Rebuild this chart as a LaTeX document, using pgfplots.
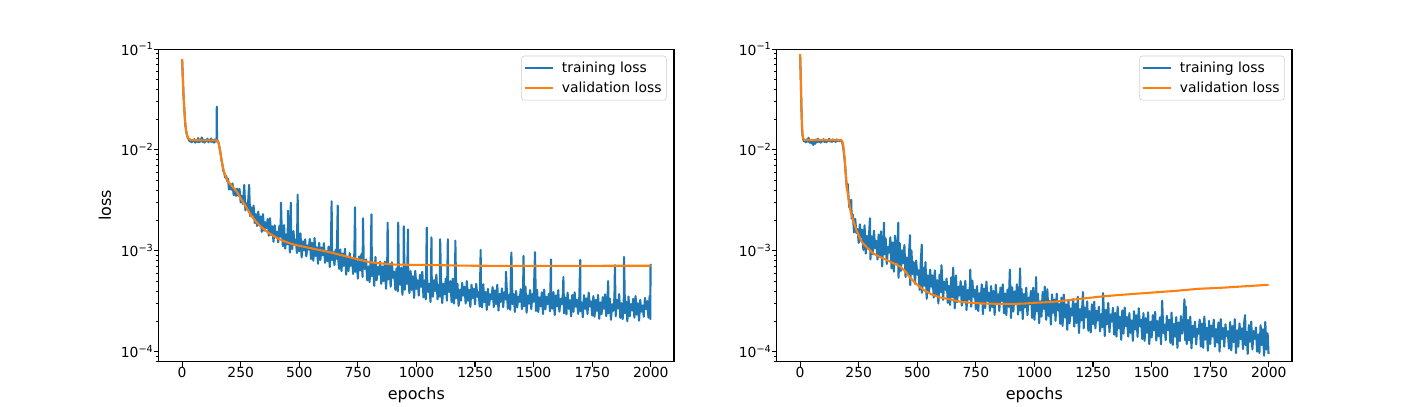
\documentclass[border=0pt]{standalone}
\usepackage{fontspec}
\setmainfont{DejaVu Sans}
\usepackage{pgfplots}
\pgfplotsset{compat=1.18}
\definecolor{tabblue}{HTML}{1F77B4}
\definecolor{taborange}{HTML}{FF7F0E}
\pgfplotsset{legend image code/.code={\draw[#1] (0pt,0pt) -- (20.6pt,0pt); \path (24pt,0pt);}}
\begin{document}
\begin{tikzpicture}
\path[use as bounding box] (0pt,0pt) rectangle (1017.36pt,292.32pt);
% ---------------- left panel ----------------
\begin{axis}[at={(114.26pt,31.9pt)}, anchor=south west,
    scale only axis, width=371pt, height=225.1pt,
    ymode=log, xmin=-99.95, xmax=2098.95, ymin=7.95e-5, ymax=0.1,
    xtick={0,250,500,750,1000,1250,1500,1750,2000},
    ytick={1e-4,1e-3,1e-2,1e-1},
    yticklabels={10\textsuperscript{−4},10\textsuperscript{−3},10\textsuperscript{−2},10\textsuperscript{−1}},
    minor ytick={8e-5,9e-5,2e-4,3e-4,4e-4,5e-4,6e-4,7e-4,8e-4,9e-4,2e-3,3e-3,4e-3,5e-3,6e-3,7e-3,8e-3,9e-3,2e-2,3e-2,4e-2,5e-2,6e-2,7e-2,8e-2,9e-2},
    tick align=outside, tick pos=left,
    major tick length=3.5pt, minor tick length=2pt,
    every major tick/.append style={line width=0.8pt,black},
    every minor tick/.append style={line width=0.6pt,black},
    axis line style={line width=0.8pt},
    xticklabel style={font=\fontsize{10}{12}\selectfont, anchor=north, inner sep=0pt, /pgf/number format/assume math mode=true, /pgf/number format/1000 sep={}},
    yticklabel style={font=\fontsize{10}{12}\selectfont, anchor=east, inner sep=0pt},
    xlabel={epochs},
    xlabel style={font=\fontsize{11.5}{13}\selectfont, at={(axis description cs:0.5,0)}, anchor=base, yshift=-27.1pt},
    ylabel={loss},
    ylabel style={font=\fontsize{11.5}{13}\selectfont, at={(axis description cs:-0.1043,0.5)}, anchor=center},
    legend cell align=left,
    legend style={at={(axis description cs:1,1)}, anchor=north east, xshift=-5.3pt, yshift=-4.8pt,
      draw=black!20, rounded corners=2pt, fill=white,
      font=\fontsize{10}{12}\selectfont,
      inner xsep=1.5pt, inner ysep=1.8pt, row sep=0pt,
      nodes={inner ysep=2.5pt}},
  ]
\addplot[tabblue, line width=1.5pt, line join=round, mark=none] coordinates {
(0,7.9e-2)(2,6.0e-2)(4,4.6e-2)(6,3.5e-2)(8,2.9e-2)(10,2.4e-2)(12,2.0e-2)(14,1.75e-2)(17,1.55e-2)(20,1.42e-2)(24,1.33e-2)(28,1.27e-2)
(32,1.22e-2)(36,1.26e-2)(40,1.19e-2)(44,1.25e-2)(48,1.21e-2)(52,1.28e-2)(56,1.18e-2)(60,1.24e-2)(64,1.20e-2)(68,1.31e-2)(72,1.19e-2)
(76,1.27e-2)(80,1.21e-2)(84,1.33e-2)(88,1.20e-2)(92,1.26e-2)(96,1.18e-2)(100,1.25e-2)(104,1.22e-2)(108,1.29e-2)(112,1.19e-2)(116,1.26e-2)
(120,1.21e-2)(124,1.30e-2)(128,1.20e-2)(132,1.25e-2)(136,1.18e-2)(140,1.27e-2)(144,1.21e-2)(147,1.24e-2)(148,2.68e-2)(149,1.25e-2)
(152,1.23e-2)(156,1.17e-2)(160,1.04e-2)(164,9.2e-3)(168,7.9e-3)(172,7.1e-3)(176,6.2e-3)(180,5.9e-3)(184,5.3e-3)(188,5.5e-3)(192,4.9e-3)
(196,5.2e-3)
(200,40.5e-4)(205,46e-4)(210,40.3e-4)(215,46.5e-4)(220,35.6e-4)(225,40.8e-4)(230,35e-4)(235,41.4e-4)(240,35e-4)(245,41e-4)(250,30.1e-4)
(255,35e-4)(260,29.1e-4)(265,45e-4)(270,25.2e-4)(275,29.5e-4)(280,25.9e-4)(286,45e-4)(290,22.1e-4)(295,26.9e-4)(300,22.6e-4)(305,28e-4)
(310,18.8e-4)(315,23.1e-4)(320,17.6e-4)(325,24.4e-4)(330,18.5e-4)(335,21.9e-4)(340,15.4e-4)(345,23.1e-4)(350,15.8e-4)(355,19.2e-4)
(360,16.8e-4)(365,20.6e-4)(370,14.1e-4)(375,21e-4)(380,14.3e-4)(385,17.5e-4)(390,12.3e-4)(395,17.9e-4)(400,13.8e-4)(405,15.4e-4)
(410,12.1e-4)(415,17.7e-4)(420,13.8e-4)(422,30e-4)(425,16.2e-4)(430,11.1e-4)(435,18e-4)(440,10.5e-4)(445,14.5e-4)(450,11.6e-4)(452,25e-4)
(455,16e-4)(460,9.6e-4)(464,30e-4)(465,14.3e-4)(470,10.4e-4)(475,15.7e-4)(480,11.4e-4)(485,12.9e-4)(490,9.5e-4)(493,36e-4)(495,14.2e-4)
(500,9.9e-4)(505,14.9e-4)(510,8.6e-4)(515,12.4e-4)(520,10.1e-4)(525,13e-4)(530,8.8e-4)(535,11.3e-4)(540,10.3e-4)(545,13.1e-4)(550,8.3e-4)
(555,12e-4)(560,7.96e-4)(565,13.4e-4)(570,8.9e-4)(575,10.8e-4)(580,7.44e-4)(585,12e-4)(590,8.1e-4)(595,10.8e-4)(600,9e-4)(605,11.9e-4)
(610,7.6e-4)(615,9.9e-4)(620,7.9e-4)(625,11e-4)(630,6.9e-4)(635,11.5e-4)(638,31e-4)(640,8.1e-4)(645,9.7e-4)(650,7.2e-4)(655,10.2e-4)
(660,8.3e-4)(664,28e-4)(665,8.9e-4)(670,6.6e-4)(675,10.3e-4)(680,6.3e-4)(685,9.4e-4)(690,7.1e-4)(695,10.5e-4)(700,5.8e-4)(705,8.5e-4)
(710,6.3e-4)(715,9.5e-4)(720,7.1e-4)(725,8.5e-4)(730,5.9e-4)(735,9.5e-4)(738,27e-4)(740,6.2e-4)(745,7.9e-4)(750,5.3e-4)(755,8.8e-4)
(760,6.4e-4)(765,9.3e-4)(770,5.5e-4)(772,21e-4)(775,7.7e-4)(780,6.6e-4)(785,8.2e-4)(790,5.1e-4)(795,7e-4)(800,4.9e-4)(805,8.3e-4)
(808,23e-4)(810,5.6e-4)(815,7.6e-4)(820,4.5e-4)(825,8.7e-4)(830,5.1e-4)(835,6.9e-4)(840,5.8e-4)(845,7.8e-4)(850,4.7e-4)(855,7e-4)
(860,5e-4)(865,7.8e-4)(870,4.2e-4)(875,6.4e-4)(877,19e-4)(880,5.2e-4)(885,7.2e-4)(890,4.4e-4)(895,7.7e-4)(900,5.4e-4)(905,6.2e-4)
(910,4.1e-4)(915,6.7e-4)(920,3.96e-4)(922,19e-4)(925,5.7e-4)(930,4.6e-4)(935,6.8e-4)(940,3.66e-4)(945,6.1e-4)(946,17.5e-4)(950,4.1e-4)
(955,7e-4)(960,4.7e-4)(964,16.3e-4)(965,5.5e-4)(970,3.8e-4)(975,6.3e-4)(980,4.1e-4)(985,5.6e-4)(990,3.4e-4)(995,6.3e-4)(1000,4.2e-4)
(1005,5.1e-4)(1010,3.6e-4)(1015,5.8e-4)(1020,4.4e-4)(1025,6.2e-4)(1030,3.45e-4)(1035,5.1e-4)(1040,3.3e-4)(1044,17e-4)(1045,5.5e-4)
(1050,3.9e-4)(1055,4.7e-4)(1060,3.1e-4)(1064,13.6e-4)(1065,5.6e-4)(1070,3.5e-4)(1075,5.1e-4)(1080,4e-4)(1085,5.8e-4)(1090,3.3e-4)
(1095,4.6e-4)(1100,3.5e-4)(1101,13e-4)(1105,5.3e-4)(1110,3.03e-4)(1115,4.7e-4)(1120,3.7e-4)(1125,5.3e-4)(1130,3.2e-4)(1134,13e-4)
(1135,4.4e-4)(1140,3.9e-4)(1145,5e-4)(1150,3.1e-4)(1155,5.3e-4)(1160,3e-4)(1165,4.4e-4)(1166,12.6e-4)(1170,3.4e-4)(1175,4.7e-4)
(1180,2.84e-4)(1185,4.1e-4)(1190,3.2e-4)(1195,4.8e-4)(1200,3.6e-4)(1205,4.4e-4)(1210,3e-4)(1215,5e-4)(1220,3.2e-4)(1225,4.1e-4)
(1230,2.78e-4)(1235,4.6e-4)(1240,3.4e-4)(1245,4.2e-4)(1250,2.95e-4)(1255,4.7e-4)(1260,3.5e-4)(1265,3.9e-4)(1270,2.8e-4)(1274,10.2e-4)
(1275,4.4e-4)(1280,2.74e-4)(1285,4.66e-4)(1290,3.1e-4)(1295,3.9e-4)(1300,2.6e-4)(1305,4.2e-4)(1310,2.9e-4)(1315,3.7e-4)(1320,3.3e-4)
(1325,4.37e-4)(1330,2.77e-4)(1335,4.04e-4)(1340,2.96e-4)(1345,4.6e-4)(1350,2.55e-4)(1355,3.75e-4)(1360,3.12e-4)(1365,4.24e-4)
(1370,2.76e-4)(1375,3.88e-4)(1380,3.29e-4)(1382,6.2e-4)(1385,4.34e-4)(1390,2.66e-4)(1395,3.66e-4)(1400,2.6e-4)(1405,9.6e-4)(1410,2.96e-4)
(1415,3.72e-4)(1420,2.48e-4)(1425,4e-4)(1430,2.75e-4)(1435,3.51e-4)(1440,3.12e-4)(1445,4.16e-4)(1450,2.64e-4)(1455,3.87e-4)(1457,8.9e-4)
(1460,2.82e-4)(1465,4.43e-4)(1470,2.43e-4)(1475,3.6e-4)(1480,2.99e-4)(1485,4.08e-4)(1490,2.64e-4)(1495,3.73e-4)(1500,3.12e-4)(1506,9.7e-4)
(1510,2.53e-4)(1515,4.09e-4)(1520,2.47e-4)(1525,3.45e-4)(1530,2.81e-4)(1535,3.88e-4)(1540,2.36e-4)(1545,4.13e-4)(1550,2.62e-4)(1555,3.5e-4)
(1560,2.96e-4)(1565,3.75e-4)(1570,2.51e-4)(1574,8.2e-4)(1575,3.3e-4)(1580,2.67e-4)(1585,3.9e-4)(1590,2.31e-4)(1595,3.62e-4)(1600,2.81e-4)
(1605,4.07e-4)(1610,2.49e-4)(1615,3.33e-4)(1620,2.95e-4)(1625,3.76e-4)(1627,5.5e-4)(1630,2.4e-4)(1635,3.44e-4)(1640,2.34e-4)(1645,3.85e-4)
(1650,2.66e-4)(1655,3.24e-4)(1660,2.24e-4)(1665,3.64e-4)(1670,2.48e-4)(1675,3.87e-4)(1680,2.79e-4)(1685,3.27e-4)(1690,2.37e-4)(1695,3.5e-4)
(1699,8.1e-4)(1700,2.52e-4)(1705,3.08e-4)(1710,2.19e-4)(1715,3.63e-4)(1720,2.66e-4)(1725,3.38e-4)(1730,2.36e-4)(1735,3.85e-4)(1740,2.8e-4)
(1745,3.15e-4)(1750,2.28e-4)(1755,3.56e-4)(1760,2.22e-4)(1765,3.26e-4)(1770,2.53e-4)(1775,3.65e-4)(1780,2.12e-4)(1785,3.08e-4)(1790,2.35e-4)
(1795,3.47e-4)(1800,2.66e-4)(1805,3.7e-4)(1810,2.25e-4)(1815,3.13e-4)(1818,5e-4)(1820,2.4e-4)(1825,3.36e-4)(1830,2.07e-4)(1835,2.95e-4)
(1840,2.54e-4)(1845,3.5e-4)(1847,7.2e-4)(1850,2.24e-4)(1855,3.25e-4)(1860,2.68e-4)(1865,3.72e-4)(1870,2.16e-4)(1875,3.02e-4)(1880,2.1e-4)
(1885,3.43e-4)(1886,8.7e-4)(1890,2.41e-4)(1895,3.13e-4)(1900,2e-4)(1905,3.52e-4)(1910,2.24e-4)(1915,2.96e-4)(1920,2.56e-4)(1925,3.34e-4)
(1930,2.17e-4)(1935,3.56e-4)(1940,2.33e-4)(1945,3.02e-4)(1950,2.03e-4)(1955,3.25e-4)(1960,2.49e-4)(1965,2.87e-4)(1970,2.22e-4)(1975,3.41e-4)
(1980,2.64e-4)(1985,3.17e-4)(1990,2.17e-4)(1995,3.57e-4)(1998,2.1e-4)(1999,7.4e-4)
};
\addlegendentry{training loss}
\addplot[taborange, line width=1.5pt, line join=round, mark=none] coordinates {
(0,7.96e-2)(2,6.0e-2)(4,4.6e-2)(6,3.5e-2)(9,2.6e-2)(13,1.9e-2)(17,1.55e-2)(22,1.37e-2)(30,1.28e-2)(40,1.25e-2)(80,1.245e-2)(120,1.245e-2)
(150,1.24e-2)(155,1.18e-2)(160,1.05e-2)(165,8.9e-3)(170,7.6e-3)(177,6.3e-3)(186,5.4e-3)(195,4.9e-3)(208,4.5e-3)(220,4.2e-3)(235,3.8e-3)
(250,3.3e-3)(270,2.8e-3)(293,2.26e-3)(315,1.95e-3)(336,1.73e-3)(370,1.5e-3)(407,1.33e-3)(440,1.23e-3)(478,1.15e-3)(550,1.06e-3)(620,9.8e-4)
(700,8.8e-4)(762,8.1e-4)(800,7.7e-4)(850,7.5e-4)(904,7.3e-4)(1000,7.25e-4)(1100,7.2e-4)(1200,7.12e-4)(1400,7.08e-4)(1600,7.08e-4)(1800,7.1e-4)(1999,7.1e-4)
};
\addlegendentry{validation loss}
\end{axis}
% ---------------- right panel ----------------
\begin{axis}[at={(559.22pt,31.9pt)}, anchor=south west,
    scale only axis, width=371pt, height=225.1pt,
    ymode=log, xmin=-99.95, xmax=2098.95, ymin=7.95e-5, ymax=0.1,
    xtick={0,250,500,750,1000,1250,1500,1750,2000},
    ytick={1e-4,1e-3,1e-2,1e-1},
    yticklabels={10\textsuperscript{−4},10\textsuperscript{−3},10\textsuperscript{−2},10\textsuperscript{−1}},
    minor ytick={8e-5,9e-5,2e-4,3e-4,4e-4,5e-4,6e-4,7e-4,8e-4,9e-4,2e-3,3e-3,4e-3,5e-3,6e-3,7e-3,8e-3,9e-3,2e-2,3e-2,4e-2,5e-2,6e-2,7e-2,8e-2,9e-2},
    tick align=outside, tick pos=left,
    major tick length=3.5pt, minor tick length=2pt,
    every major tick/.append style={line width=0.8pt,black},
    every minor tick/.append style={line width=0.6pt,black},
    axis line style={line width=0.8pt},
    xticklabel style={font=\fontsize{10}{12}\selectfont, anchor=north, inner sep=0pt, /pgf/number format/assume math mode=true, /pgf/number format/1000 sep={}},
    yticklabel style={font=\fontsize{10}{12}\selectfont, anchor=east, inner sep=0pt},
    xlabel={epochs},
    xlabel style={font=\fontsize{11.5}{13}\selectfont, at={(axis description cs:0.5,0)}, anchor=base, yshift=-27.1pt},
    legend cell align=left,
    legend style={at={(axis description cs:1,1)}, anchor=north east, xshift=-5.3pt, yshift=-4.8pt,
      draw=black!20, rounded corners=2pt, fill=white,
      font=\fontsize{10}{12}\selectfont,
      inner xsep=1.5pt, inner ysep=1.8pt, row sep=0pt,
      nodes={inner ysep=2.5pt}},
  ]
\addplot[tabblue, line width=1.5pt, line join=round, mark=none] coordinates {
(0,8.9e-2)(2,6.0e-2)(4,3.8e-2)(6,2.4e-2)(8,1.7e-2)(10,1.4e-2)(13,1.28e-2)(16,1.22e-2)(20,1.26e-2)(24,1.19e-2)(28,1.27e-2)(32,1.21e-2)
(36,1.32e-2)(40,1.18e-2)(44,1.25e-2)(48,1.16e-2)(52,1.24e-2)(56,1.12e-2)(60,1.23e-2)(64,1.15e-2)(68,1.27e-2)(72,1.19e-2)(76,1.29e-2)
(80,1.2e-2)(84,1.26e-2)(88,1.18e-2)(92,1.25e-2)(96,1.21e-2)(100,1.28e-2)(104,1.2e-2)(108,1.26e-2)(112,1.19e-2)(116,1.25e-2)(120,1.22e-2)
(124,1.29e-2)(128,1.21e-2)(132,1.26e-2)(136,1.2e-2)(140,1.27e-2)(144,1.22e-2)(148,1.25e-2)(152,1.2e-2)(156,1.27e-2)(160,1.23e-2)(164,1.26e-2)
(168,1.22e-2)(172,1.25e-2)(176,1.24e-2)(180,1.18e-2)(184,1.05e-2)(188,8.8e-3)(192,7.0e-3)(196,5.2e-3)(200,4.0e-3)(203,4.6e-3)
(205,39e-4)(210,26.8e-4)(215,31e-4)(218,32e-4)(220,20.8e-4)(225,22.9e-4)(230,15.2e-4)(235,20.75e-4)(240,15.05e-4)(245,16.4e-4)(250,12e-4)
(255,18.3e-4)(260,13.6e-4)(265,16.2e-4)(270,10.2e-4)(275,17.9e-4)(280,9.4e-4)(285,14e-4)(290,10.7e-4)(295,15.7e-4)(298,21e-4)(300,8.2e-4)
(305,13.9e-4)(310,9.2e-4)(315,15.8e-4)(320,10.6e-4)(325,12.6e-4)(330,8.2e-4)(335,14.5e-4)(340,8.8e-4)(345,15.6e-4)(350,7e-4)(355,12.3e-4)
(358,19e-4)(360,9.2e-4)(365,13.3e-4)(370,7.4e-4)(375,10.9e-4)(380,9.6e-4)(385,13.6e-4)(390,6.7e-4)(395,12.1e-4)(400,6.2e-4)(405,14.1e-4)
(410,7.6e-4)(415,10.3e-4)(419,19e-4)(420,5.4e-4)(425,11.9e-4)(430,6.3e-4)(435,10.1e-4)(440,7.5e-4)(445,11.4e-4)(450,5.5e-4)(455,8.6e-4)
(460,5.9e-4)(465,9.7e-4)(469,14.3e-4)(470,4.56e-4)(475,10.1e-4)(480,5.9e-4)(485,7.7e-4)(490,4.7e-4)(495,8e-4)(500,5.8e-4)(505,6.4e-4)
(510,4.1e-4)(515,7.7e-4)(519,11.5e-4)(520,3.84e-4)(525,6.8e-4)(530,4.5e-4)(535,7.7e-4)(540,3.34e-4)(545,5.7e-4)(550,3.8e-4)(555,6.5e-4)
(560,4.4e-4)(565,5.7e-4)(570,3.44e-4)(575,6.4e-4)(580,3.7e-4)(585,5.1e-4)(590,3e-4)(595,5.8e-4)(600,3.9e-4)(603,7.2e-4)(605,6.15e-4)
(610,3.26e-4)(615,4.93e-4)(620,4.1e-4)(625,5.3e-4)(630,3.05e-4)(635,4.5e-4)(640,2.91e-4)(645,5.45e-4)(650,3.47e-4)(653,6.8e-4)(655,4.9e-4)
(660,2.69e-4)(665,5.7e-4)(670,3.1e-4)(675,4.4e-4)(680,3.6e-4)(685,5e-4)(690,2.86e-4)(695,4.45e-4)(700,3.08e-4)(705,5.05e-4)(710,2.58e-4)
(715,4.09e-4)(720,3.29e-4)(725,4.7e-4)(726,6.5e-4)(730,2.79e-4)(735,5.06e-4)(740,3.49e-4)(745,4.12e-4)(750,2.63e-4)(755,4.47e-4)(760,2.53e-4)
(765,3.79e-4)(770,3.02e-4)(775,4.65e-4)(780,2.35e-4)(785,4.23e-4)(790,2.71e-4)(795,4.95e-4)(800,3.18e-4)(805,3.84e-4)(810,2.54e-4)(815,4.47e-4)
(820,2.77e-4)(825,4e-4)(830,2.31e-4)(835,4.61e-4)(840,2.98e-4)(845,3.71e-4)(850,2.53e-4)(855,4.32e-4)(860,3.19e-4)(865,4.65e-4)(870,2.4e-4)
(875,3.78e-4)(880,2.3e-4)(885,4.12e-4)(890,2.78e-4)(895,6.5e-4)(900,2.15e-4)(905,4.34e-4)(910,2.5e-4)(915,3.95e-4)(920,2.96e-4)(925,4.66e-4)
(930,2.33e-4)(935,3.59e-4)(939,6.7e-4)(940,2.56e-4)(945,4.19e-4)(950,2.1e-4)(955,3.73e-4)(960,2.75e-4)(965,4.31e-4)(970,2.3e-4)(975,3.44e-4)
(980,2.95e-4)(985,4.01e-4)(990,2.16e-4)(995,4.3e-4)(1000,2.07e-4)(1005,3.45e-4)(1007,5.5e-4)(1010,2.51e-4)(1015,3.76e-4)(1020,1.91e-4)
(1025,3.15e-4)(1030,2.23e-4)(1035,3.9e-4)(1040,2.65e-4)(1044,4.4e-4)(1045,3.53e-4)(1050,2.07e-4)(1055,4.16e-4)(1060,2.27e-4)(1065,3.17e-4)
(1070,1.85e-4)(1075,3.7e-4)(1080,2.43e-4)(1085,3.28e-4)(1090,2.02e-4)(1095,3.76e-4)(1100,2.57e-4)(1105,2.96e-4)(1110,1.89e-4)(1115,3.43e-4)
(1120,1.8e-4)(1125,3.68e-4)(1130,2.18e-4)(1135,2.95e-4)(1140,1.65e-4)(1145,3.21e-4)(1150,1.92e-4)(1155,2.68e-4)(1160,2.28e-4)(1165,3.32e-4)
(1170,1.77e-4)(1175,2.99e-4)(1180,1.93e-4)(1185,3.51e-4)(1190,1.53e-4)(1195,2.64e-4)(1200,2.04e-4)(1205,3.07e-4)(1207,3.9e-4)(1210,1.7e-4)
(1215,2.73e-4)(1220,2.19e-4)(1225,3.15e-4)(1230,1.61e-4)(1235,2.52e-4)(1240,1.55e-4)(1245,2.94e-4)(1250,1.88e-4)(1255,3.13e-4)(1260,1.7e-4)
(1265,2.55e-4)(1270,2.03e-4)(1275,2.79e-4)(1280,1.59e-4)(1285,2.35e-4)(1290,1.75e-4)(1293,3.8e-4)(1295,2.85e-4)(1300,1.43e-4)(1305,2.59e-4)
(1310,1.87e-4)(1315,3.04e-4)(1320,1.56e-4)(1325,2.34e-4)(1330,1.98e-4)(1335,2.72e-4)(1340,1.47e-4)(1345,2.42e-4)(1350,1.41e-4)(1355,2.78e-4)
(1360,1.7e-4)(1365,2.22e-4)(1370,1.31e-4)(1375,2.57e-4)(1380,1.51e-4)(1385,2.74e-4)(1390,1.79e-4)(1395,2.2e-4)(1400,1.41e-4)(1405,2.41e-4)
(1410,1.54e-4)(1415,2.04e-4)(1420,1.28e-4)(1425,2.52e-4)(1430,1.66e-4)(1435,2.29e-4)(1440,1.4e-4)(1445,2.69e-4)(1450,1.78e-4)(1455,2.08e-4)
(1460,1.33e-4)(1465,2.41e-4)(1470,1.28e-4)(1475,2.15e-4)(1480,1.54e-4)(1485,2.46e-4)(1490,1.19e-4)(1495,1.98e-4)(1500,1.38e-4)(1505,2.3e-4)
(1510,1.63e-4)(1515,2.48e-4)(1520,1.29e-4)(1525,2.01e-4)(1530,1.42e-4)(1535,2.19e-4)(1540,1.18e-4)(1545,3.2e-4)(1550,1.53e-4)(1555,1.85e-4)
(1560,1.3e-4)(1565,2.27e-4)(1570,1.64e-4)(1575,2.07e-4)(1580,1.22e-4)(1585,2.44e-4)(1590,1.17e-4)(1595,1.89e-4)(1600,1.41e-4)(1605,2.2e-4)
(1610,1.09e-4)(1615,1.95e-4)(1620,1.27e-4)(1625,2.25e-4)(1630,1.51e-4)(1635,1.82e-4)(1640,3.3e-4)(1643,1.3e-4)(1646,2.8e-4)(1650,1.19e-4)
(1655,2.06e-4)(1660,1.29e-4)(1665,2.22e-4)(1670,1.08e-4)(1675,1.8e-4)(1680,1.4e-4)(1685,1.98e-4)(1690,1.18e-4)(1695,1.68e-4)(1700,1.5e-4)
(1705,2.08e-4)(1710,1.12e-4)(1715,1.9e-4)(1720,1.09e-4)(1725,2.23e-4)(1730,1.32e-4)(1735,1.73e-4)(1740,1.02e-4)(1745,2.02e-4)(1750,1.19e-4)
(1755,1.81e-4)(1760,1.41e-4)(1765,2.07e-4)(1770,1.12e-4)(1775,1.68e-4)(1780,1.23e-4)(1785,1.95e-4)(1790,1e-4)(1795,2.1e-4)(1800,1.33e-4)
(1805,1.71e-4)(1810,1.12e-4)(1815,1.87e-4)(1820,1.43e-4)(1825,1.59e-4)(1830,1.07e-4)(1835,1.96e-4)(1840,1.03e-4)(1845,1.79e-4)(1850,1.24e-4)
(1855,2.1e-4)(1860,0.97e-4)(1865,1.63e-4)(1870,1.12e-4)(1875,1.9e-4)(1880,1.33e-4)(1885,1.7e-4)(1890,1.06e-4)(1895,1.95e-4)(1899,2.3e-4)
(1901,1.16e-4)(1905,1.58e-4)(1910,0.95e-4)(1915,1.83e-4)(1920,1.25e-4)(1925,1.98e-4)(1930,1.05e-4)(1935,1.6e-4)(1940,1.34e-4)(1945,1.74e-4)
(1950,1e-4)(1955,1.48e-4)(1960,0.97e-4)(1965,1.83e-4)(1970,1.16e-4)(1975,1.67e-4)(1980,0.91e-4)(1985,1.97e-4)(1990,1.05e-4)(1995,1.52e-4)
(1999,0.95e-4)
};
\addlegendentry{training loss}
\addplot[taborange, line width=1.5pt, line join=round, mark=none] coordinates {
(0,8.9e-2)(2,6.0e-2)(4,3.8e-2)(6,2.5e-2)(8,1.8e-2)(10,1.45e-2)(13,1.3e-2)(18,1.26e-2)(30,1.25e-2)(175,1.25e-2)(180,1.21e-2)(184,1.12e-2)
(188,9.2e-3)(192,7.2e-3)(196,5.3e-3)(200,4.2e-3)(204,3.6e-3)(210,2.9e-3)(216,2.4e-3)(227,2.0e-3)(240,1.6e-3)(262,1.23e-3)(290,1.05e-3)
(312,9.4e-4)(340,8.7e-4)(369,8.1e-4)(400,7.5e-4)(426,7.0e-4)(450,6.2e-4)(469,5.4e-4)(500,4.6e-4)(526,4.1e-4)(560,3.7e-4)(597,3.45e-4)
(640,3.3e-4)(682,3.13e-4)(730,3.05e-4)(781,3.0e-4)(850,2.98e-4)(909,2.97e-4)(960,3.0e-4)(1000,3.05e-4)(1065,3.1e-4)(1100,3.15e-4)
(1200,3.35e-4)(1300,3.55e-4)(1400,3.7e-4)(1500,3.85e-4)(1600,4.0e-4)(1700,4.2e-4)(1800,4.3e-4)(1900,4.45e-4)(1999,4.6e-4)
};
\addlegendentry{validation loss}
\end{axis}
\end{tikzpicture}
\end{document}
